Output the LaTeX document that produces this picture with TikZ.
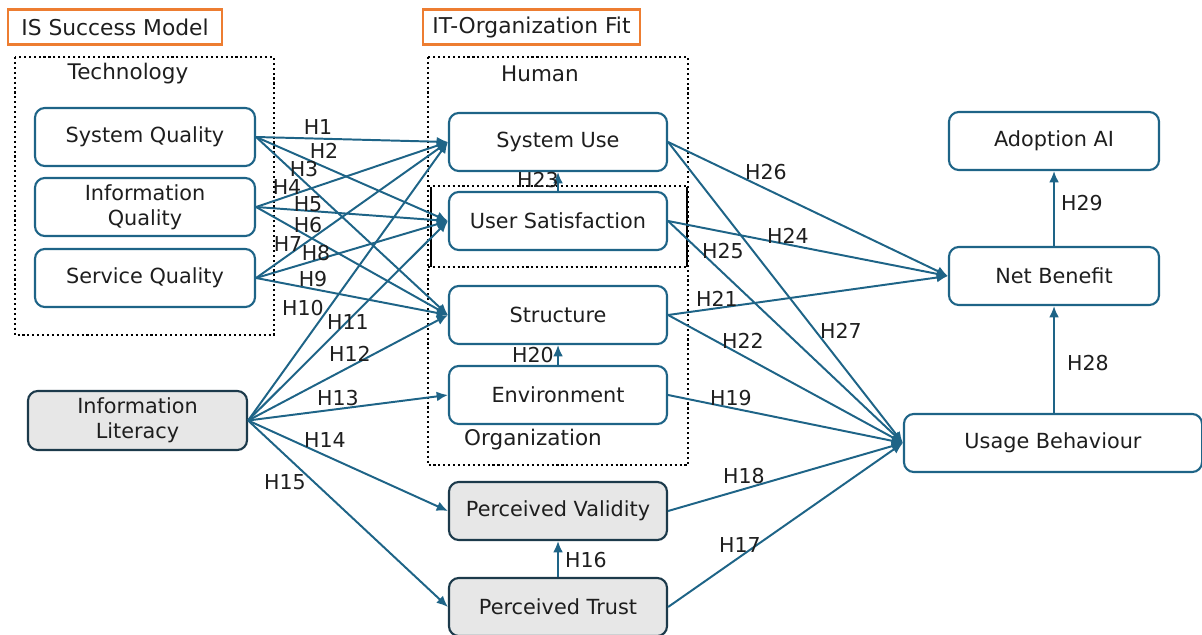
\documentclass[tikz,border=0pt]{standalone}
\usepackage{fontspec}
\setmainfont{DejaVu Sans}
\usetikzlibrary{arrows.meta}
\definecolor{myblue}{RGB}{30,100,135}
\definecolor{darkb}{RGB}{28,58,75}
\definecolor{graybg}{RGB}{231,231,231}
\definecolor{orng}{RGB}{237,125,49}
\definecolor{txt}{RGB}{30,30,30}
\tikzset{
  box/.style={draw=myblue, line width=1.5pt, rounded corners=7pt, fill=white,
    minimum width=5.45cm, minimum height=1.45cm, align=center, inner sep=0pt,
    text=txt, font=\fontsize{14.8}{17.8}\selectfont},
  gbox/.style={box, draw=darkb, fill=graybg},
  title/.style={draw=orng, line width=1.8pt, minimum height=0.875cm, inner sep=0pt,
    text=txt, font=\fontsize{15.5}{18}\selectfont},
  grp/.style={draw=black, dotted, line width=1.5pt},
  lbl/.style={text=txt, font=\fontsize{15.3}{18}\selectfont, inner sep=0pt},
  hl/.style={text=txt, font=\fontsize{14.6}{17}\selectfont, inner sep=0pt},
  arr/.style={draw=myblue, line width=1.4pt, -{Latex[length=8pt,width=7pt]}}
}
\begin{document}
\begin{tikzpicture}[x=0.025cm, y=-0.025cm]
\useasboundingbox (0,0) rectangle (1202,635);
% group frames
\draw[grp] (15,57) rectangle (274,335);
\draw[grp] (428,57) rectangle (688,465);
\draw[grp] (428,186) -- (688,186);
\draw[grp] (428,267) -- (688,267);
\draw[black, line width=1.6pt] (431,187) -- (431,267);
\draw[black, line width=1.6pt] (687,187) -- (687,267);
% titles
\node[title, minimum width=5.35cm] (ism) at (115,27) {IS Success Model};
\node[title, minimum width=5.425cm] (itf) at (531.5,27) {IT-Organization Fit};
\node[lbl] (tech) at (128,74) {Technology};
\node[lbl] (hum) at (540,74) {Human};
\node[lbl] (org) at (533,440) {Organization};
% nodes
\node[box, minimum width=5.5cm] (sq) at (145,137) {System Quality};
\node[box, minimum width=5.5cm] (iq) at (145,207) {Information\\Quality};
\node[box, minimum width=5.5cm] (svq) at (145,278) {Service Quality};
\node[gbox, minimum width=5.475cm, minimum height=1.475cm] (il) at (137.5,420.5) {Information\\Literacy};
\node[box] (su) at (558,142) {System Use};
\node[box] (us) at (558,221) {User Satisfaction};
\node[box] (st) at (558,315) {Structure};
\node[box] (env) at (558,395) {Environment};
\node[gbox] (pv) at (558,511) {Perceived Validity};
\node[gbox] (pt) at (558,607) {Perceived Trust};
\node[box, minimum width=5.25cm] (ad) at (1054,141) {Adoption AI};
\node[box, minimum width=5.25cm] (nb) at (1054,276) {Net Benefit};
\node[box, minimum width=7.45cm] (ub) at (1053,443) {Usage Behaviour};
% arrows
\foreach \s in {sq,iq,svq,il}{
  \draw[arr] (\s.east) -- (su.west);
  \draw[arr] (\s.east) -- (us.west);
  \draw[arr] (\s.east) -- (st.west);
}
\draw[arr] (il.east) -- (env.west);
\draw[arr] (il.east) -- (pv.west);
\draw[arr] (il.east) -- (pt.west);
\draw[arr] (pt.north) -- (pv.south);
\draw[arr] (env.north) -- (st.south);
\draw[arr] (us.north) -- (su.south);
\foreach \s in {su,us,st,env,pv,pt}{
  \draw[arr] (\s.east) -- (ub.west);
}
\foreach \s in {su,us,st}{
  \draw[arr] (\s.east) -- (nb.west);
}
\draw[arr] (ub.north -| nb.south) -- (nb.south);
\draw[arr] (nb.north) -- (ad.south);
% hypothesis labels
\node[hl] (h1) at (318,127) {H1};
\node[hl] (h2) at (324,151) {H2};
\node[hl] (h3) at (304,169) {H3};
\node[hl] (h4) at (287,187) {H4};
\node[hl] (h5) at (308,204) {H5};
\node[hl] (h6) at (308,225) {H6};
\node[hl] (h7) at (288,244) {H7};
\node[hl] (h8) at (316,253) {H8};
\node[hl] (h9) at (313,279) {H9};
\node[hl] (h10) at (303,308) {H10};
\node[hl] (h11) at (348,322) {H11};
\node[hl] (h12) at (350,354) {H12};
\node[hl] (h13) at (338,398) {H13};
\node[hl] (h14) at (325,440) {H14};
\node[hl] (h15) at (285,482) {H15};
\node[hl] (h16) at (586,560) {H16};
\node[hl] (h17) at (740,545) {H17};
\node[hl] (h18) at (744,476) {H18};
\node[hl] (h19) at (731,398) {H19};
\node[hl] (h20) at (533,355) {H20};
\node[hl] (h21) at (717,299) {H21};
\node[hl] (h22) at (743,341) {H22};
\node[hl] (h23) at (538,180) {H23};
\node[hl] (h24) at (788,236) {H24};
\node[hl] (h25) at (723,251) {H25};
\node[hl] (h26) at (766,172) {H26};
\node[hl] (h27) at (841,331) {H27};
\node[hl] (h28) at (1088,363) {H28};
\node[hl] (h29) at (1082,203) {H29};
\end{tikzpicture}
\end{document}
